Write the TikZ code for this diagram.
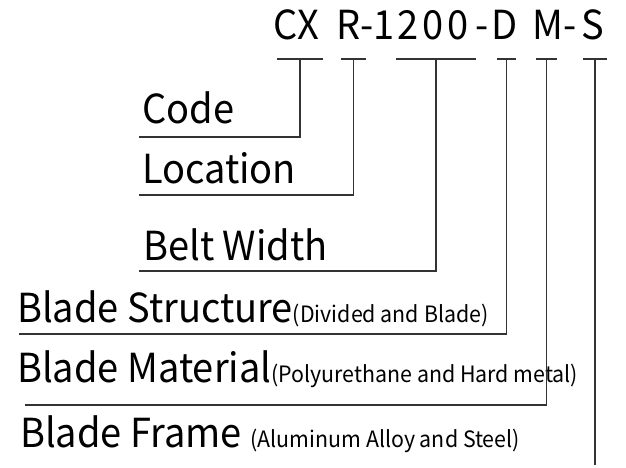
\documentclass[tikz,border=0pt]{standalone}
\usepackage{fontspec}
\setmainfont{Noto Sans CJK SC}[FakeStretch=0.95]
\usepackage{tikz}
\usetikzlibrary{calc, positioning}
\tikzstyle{big} = [inner sep=0pt, anchor=base west, font=\fontsize{40}{44}\selectfont]
\newcommand{\note}[1]{{\fontsize{22.5}{26}\selectfont #1}}
\tikzstyle{lead} = [line width=1.1pt, draw=black!80]

\begin{document}
\begin{tikzpicture}[x=1pt, y=-1pt]
            \useasboundingbox (0,0) rectangle (626,467);
            % the model code, part by part
            \foreach \name/\txt/\x/\ls in {pcx/CX/273/0, pr/R/336/0, ph1/-/360/0, pw/1200/373/9, ph2/-/475/0, pd/D/491/0, pm/M/532/0, ph3/-/563/0, ps/S/581/0} {
                \node[big] (\name) at (\x,39) {\addfontfeature{LetterSpace=\ls}\txt};
            }
            % bars under the parts of the model code
            \foreach \name/\a/\b in {bcx/277/323, br/341/366, bw/396/476, bd/497/516, bm/536/557, bs/583/607} {
                \draw[lead] (\a,59) -- (\b,59);
                \coordinate (\name) at ({(\a+\b)/2},59);
            }
            \node[big] (code) at (142,123) {Code};
            \node[big] (loc) at (142,183) {Location};
            \node[big] (belt) at (143,260) {Belt Width};
            \node[big] (struct) at (17,322) {Blade Structure\note{(Divided and Blade)}};
            \node[big] (mat) at (17,382) {Blade Material\note{(Polyurethane and Hard metal)}};
            \node[big] (frame) at (20,447) {Blade Frame \note{(Aluminum Alloy and Steel)}};
            \coordinate (lcode) at (139,137);
            \coordinate (lloc) at (139,195);
            \coordinate (lbelt) at (139,271);
            \coordinate (lstruct) at (19,334);
            \coordinate (lmat) at (25,405);
            \coordinate (lframe) at (bs |- 0,465);
            \draw[lead] (lcode) -| (bcx);
            \draw[lead] (lloc) -| (br);
            \draw[lead] (lbelt) -| (bw);
            \draw[lead] (lstruct) -| (bd);
            \draw[lead] (lmat) -| (bm);
            \draw[lead] (lframe) -- (bs);
        \end{tikzpicture}
\end{document}
